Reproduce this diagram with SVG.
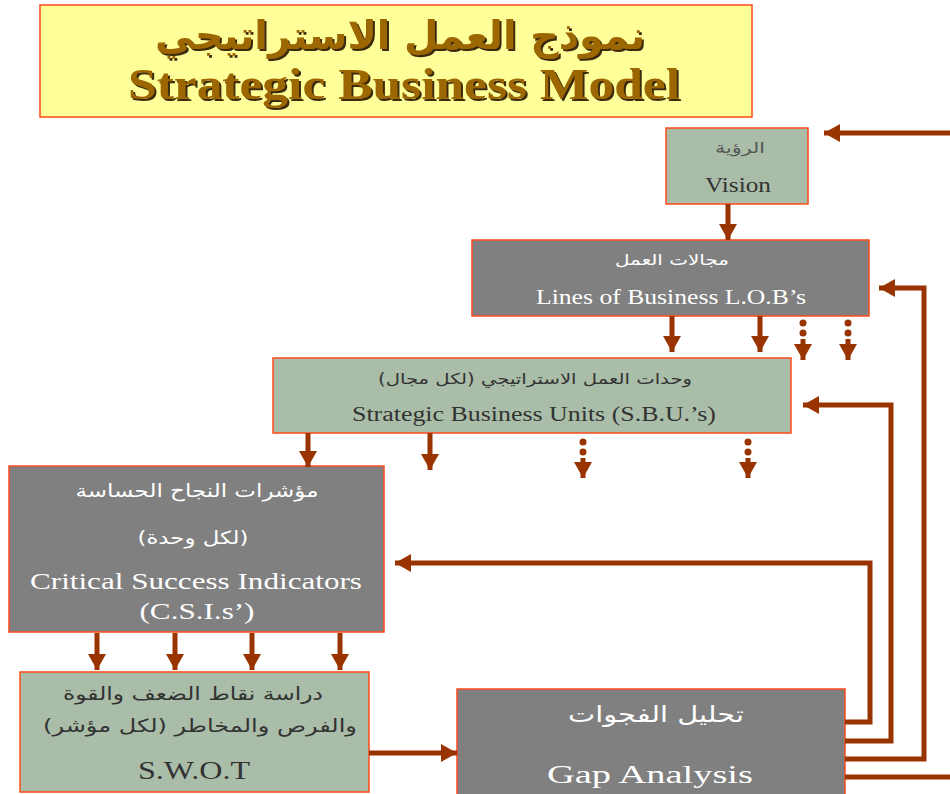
<svg xmlns="http://www.w3.org/2000/svg" width="950" height="794" viewBox="0 0 950 794">
  <style>
    .box { stroke: #FF4A1C; stroke-width: 1.5; }
    .green { fill: #A9BDA8; }
    .grey { fill: #808080; }
    .en { font-family: "Liberation Serif", "DejaVu Serif", serif; }
    .ar { font-family: "DejaVu Sans", "Liberation Sans", sans-serif; }
    .dark { fill: #333333; }
    .light { fill: #FFFFFF; }
    .link { fill: none; stroke: #993300; stroke-width: 5; }
    .dot { fill: #993300; }
  </style>
  <defs>
    <marker id="head" markerUnits="userSpaceOnUse" markerWidth="18" markerHeight="18" viewBox="0 0 16 18" refX="16" refY="9" orient="auto">
      <path d="M0,0 L16,9 L0,18 Z" fill="#993300"/>
    </marker>
    <!-- hard drop shadow for the banner lettering -->
    <filter id="shadow" x="-5%" y="-20%" width="110%" height="150%">
      <feOffset in="SourceAlpha" dx="2" dy="2" result="off"/>
      <feFlood flood-color="#3A2A10"/>
      <feComposite in2="off" operator="in" result="sh"/>
      <feMerge>
        <feMergeNode in="sh"/>
        <feMergeNode in="SourceGraphic"/>
      </feMerge>
    </filter>
  </defs>

  <rect width="950" height="794" fill="#FFFFFF"/>

  <!-- title banner -->
  <g id="title">
    <rect class="box" x="40" y="5" width="712" height="112" fill="#FFFF99"/>
    <g font-weight="bold" text-anchor="middle" fill="#9C6600" filter="url(#shadow)">
      <text class="ar" x="400" y="49" font-size="39" textLength="490" lengthAdjust="spacingAndGlyphs">نموذج العمل الاستراتيجي</text>
      <text class="en" x="404" y="99" font-size="44" textLength="552" lengthAdjust="spacingAndGlyphs">Strategic Business Model</text>
    </g>
  </g>

  <!-- vision -->
  <g id="vision" text-anchor="middle">
    <rect class="box green" x="666" y="128" width="142" height="76"/>
    <text class="ar" x="740" y="153" font-size="15" textLength="50" lengthAdjust="spacingAndGlyphs" fill="#555555">الرؤية</text>
    <text class="en dark" x="738" y="192" font-size="20" textLength="66" lengthAdjust="spacingAndGlyphs">Vision</text>
  </g>

  <!-- lines of business -->
  <g id="lob" text-anchor="middle">
    <rect class="box grey" x="472" y="240" width="397" height="76"/>
    <text class="ar light" x="672" y="265" font-size="15" textLength="114" lengthAdjust="spacingAndGlyphs">مجالات العمل</text>
    <text class="en light" x="671" y="304" font-size="20" textLength="270" lengthAdjust="spacingAndGlyphs">Lines of Business L.O.B’s</text>
  </g>

  <!-- strategic business units -->
  <g id="sbu" text-anchor="middle">
    <rect class="box green" x="273" y="358" width="518" height="75"/>
    <text class="ar dark" x="535" y="384" font-size="15" textLength="314" lengthAdjust="spacingAndGlyphs">وحدات العمل الاستراتيجي (لكل مجال)</text>
    <text class="en dark" x="534" y="421" font-size="20" textLength="364" lengthAdjust="spacingAndGlyphs">Strategic Business Units (S.B.U.’s)</text>
  </g>

  <!-- critical success indicators -->
  <g id="csi" text-anchor="middle">
    <rect class="box grey" x="9" y="466" width="375" height="166"/>
    <text class="ar light" x="197" y="497" font-size="18" textLength="243" lengthAdjust="spacingAndGlyphs">مؤشرات النجاح الحساسة</text>
    <text class="ar light" x="193" y="544" font-size="18" textLength="111" lengthAdjust="spacingAndGlyphs">(لكل وحدة)</text>
    <text class="en light" x="196" y="589" font-size="24" textLength="332" lengthAdjust="spacingAndGlyphs">Critical Success Indicators</text>
    <text class="en light" x="197" y="619" font-size="24" textLength="115" lengthAdjust="spacingAndGlyphs">(C.S.I.s’)</text>
  </g>

  <!-- swot -->
  <g id="swot" text-anchor="middle">
    <rect class="box green" x="20" y="672" width="349" height="120"/>
    <text class="ar dark" x="193" y="700" font-size="18" textLength="260" lengthAdjust="spacingAndGlyphs">دراسة نقاط الضعف والقوة</text>
    <text class="ar dark" x="200" y="732" font-size="18" textLength="314" lengthAdjust="spacingAndGlyphs">والفرص والمخاطر (لكل مؤشر)</text>
    <text class="en dark" x="194" y="779" font-size="25" textLength="112" lengthAdjust="spacingAndGlyphs">S.W.O.T</text>
  </g>

  <!-- gap analysis -->
  <g id="gap" text-anchor="middle">
    <rect class="box grey" x="457" y="689" width="388" height="110"/>
    <text class="ar light" x="656" y="722" font-size="22" textLength="176" lengthAdjust="spacingAndGlyphs">تحليل الفجوات</text>
    <text class="en light" x="650" y="783" font-size="26" textLength="206" lengthAdjust="spacingAndGlyphs">Gap Analysis</text>
  </g>

  <!-- connectors -->
  <g id="connectors">
    <!-- downward flow -->
    <path class="link" d="M728,204 V240" marker-end="url(#head)"/>
    <path class="link" d="M672,316 V352" marker-end="url(#head)"/>
    <path class="link" d="M760,316 V352" marker-end="url(#head)"/>
    <path class="link" d="M308,433 V467" marker-end="url(#head)"/>
    <path class="link" d="M430,433 V470" marker-end="url(#head)"/>
    <path class="link" d="M97,633 V670" marker-end="url(#head)"/>
    <path class="link" d="M175,633 V670" marker-end="url(#head)"/>
    <path class="link" d="M252,633 V670" marker-end="url(#head)"/>
    <path class="link" d="M340,633 V670" marker-end="url(#head)"/>
    <path class="link" d="M369,753 H457" marker-end="url(#head)"/>

    <!-- dotted continuations -->
    <circle class="dot" cx="803" cy="323" r="3.5"/>
    <circle class="dot" cx="803" cy="333" r="3.5"/>
    <path class="link" d="M803,339 V360" marker-end="url(#head)"/>
    <circle class="dot" cx="848" cy="323" r="3.5"/>
    <circle class="dot" cx="848" cy="333" r="3.5"/>
    <path class="link" d="M848,339 V360" marker-end="url(#head)"/>
    <circle class="dot" cx="583" cy="442" r="3.5"/>
    <circle class="dot" cx="583" cy="452" r="3.5"/>
    <path class="link" d="M583,458 V478" marker-end="url(#head)"/>
    <circle class="dot" cx="748" cy="442" r="3.5"/>
    <circle class="dot" cx="748" cy="452" r="3.5"/>
    <path class="link" d="M748,458 V478" marker-end="url(#head)"/>

    <!-- feedback loops from gap analysis -->
    <path class="link" d="M845,722 H870 V563 H395" marker-end="url(#head)"/>
    <path class="link" d="M845,741 H891 V405 H803" marker-end="url(#head)"/>
    <path class="link" d="M845,759 H924 V288 H879" marker-end="url(#head)"/>
    <path class="link" d="M845,777 H955"/>
    <path class="link" d="M955,133 H824" marker-end="url(#head)"/>
  </g>
</svg>
